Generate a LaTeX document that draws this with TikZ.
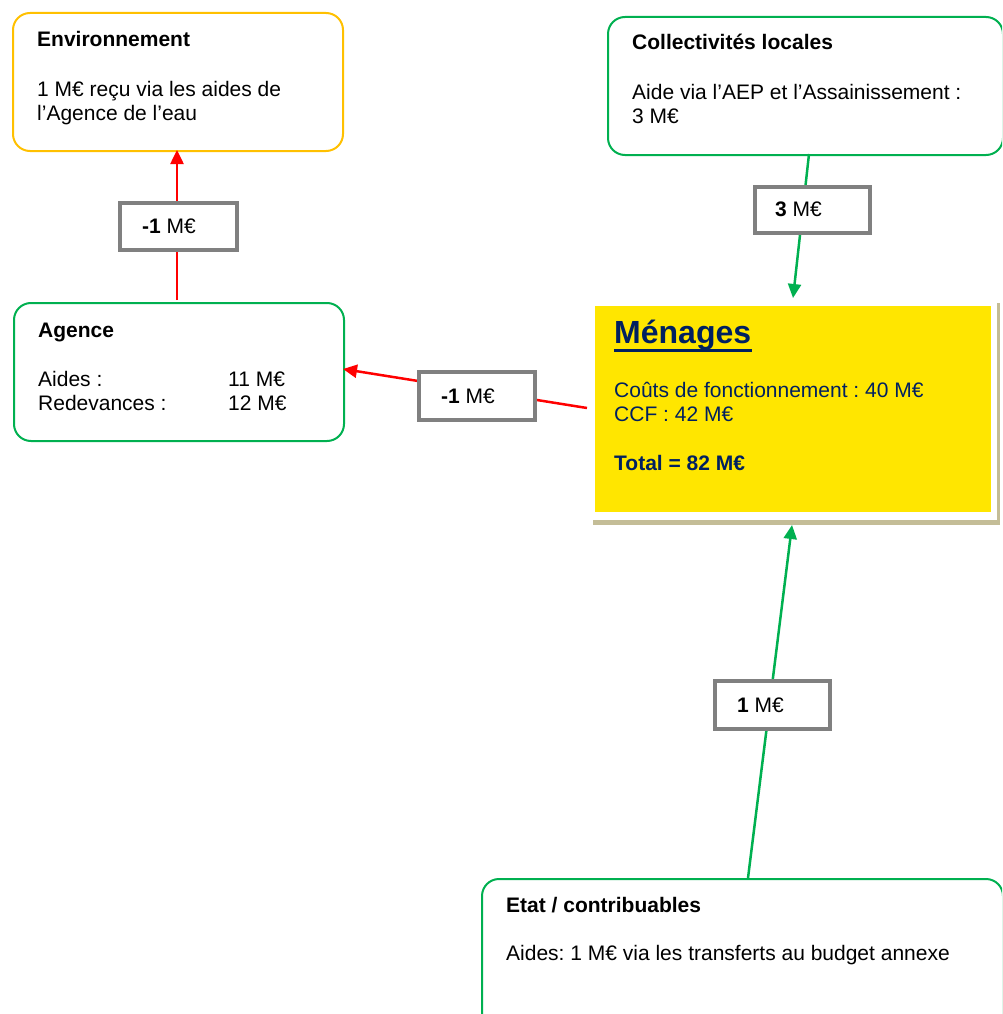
\documentclass[tikz,border=0pt]{standalone}
\usepackage{fontspec}
\setmainfont{Liberation Sans}
\usetikzlibrary{arrows.meta,calc}
\definecolor{cgreen}{RGB}{0,176,80}
\definecolor{corange}{RGB}{255,192,0}
\definecolor{cred}{RGB}{255,0,0}
\definecolor{cgray}{RGB}{128,128,128}
\definecolor{cyellow}{RGB}{255,230,0}
\definecolor{ctan}{RGB}{196,189,151}
\definecolor{cnavy}{RGB}{0,32,96}
\frenchspacing
\begin{document}
\begin{tikzpicture}[x=1pt,y=-1pt,
  font=\fontsize{21}{24}\selectfont,
  box/.style={draw, line width=2pt, rounded corners=17pt, anchor=north west, inner sep=0pt, fill=white},
  txt/.style={anchor=base west, inner sep=0pt},
  lbl/.style={draw=cgray, line width=4pt, fill=white, anchor=north west, inner sep=0pt},
  flow/.style={line width=2.5pt, -{Triangle[length=14pt,width=13pt]}}
]
\useasboundingbox (0,0) rectangle (1002,1014);
\clip (0,0) rectangle (1002,1014);

% boxes
\node[box, draw=cgreen, minimum width=395pt, minimum height=138pt] (coll) at (607,16) {};
\node[box, draw=corange, minimum width=330pt, minimum height=138pt] (env) at (12,12) {};
\node[box, draw=cgreen, minimum width=330pt, minimum height=138pt] (agence) at (13,302) {};
\node[box, draw=cgreen, minimum width=521pt, minimum height=160pt] (etat) at (481,878) {};

% Menages frame with shadow
\node[fill=ctan, anchor=north west, inner sep=0pt, minimum width=407pt, minimum height=222pt] (mshadow) at (593,303) {};
\node[fill=white, anchor=north west, inner sep=0pt, minimum width=407pt, minimum height=220pt] (menages) at (590,300) {};
\node[fill=cyellow, anchor=north west, inner sep=0pt, minimum width=396pt, minimum height=206pt] (myellow) at (595,306) {};

% texts
\node[txt] (envT) at (37,47) {\bfseries Environnement};
\node[txt] (envL1) at (37,97) {1 M€ reçu via les aides de};
\node[txt] (envL2) at (37,121) {l’Agence de l’eau};

\node[txt] (collT) at (632,50) {\bfseries Collectivités locales};
\node[txt] (collL1) at (632,100) {Aide via l’AEP et l’Assainissement :};
\node[txt] (collL2) at (632,124) {3 M€};

\node[txt] (agT) at (38,337) {\bfseries Agence};
\node[txt] (agL1) at (38,386) {Aides :};
\node[txt] (agL2) at (38,410) {Redevances :};
\node[txt] (agV1) at (228,386) {11 M€};
\node[txt] (agV2) at (228,410) {12 M€};

\node[txt, text=cnavy, font=\fontsize{32}{36}\selectfont\bfseries] (menT) at (614,343) {Ménages};
\draw[cnavy, line width=3pt] (menT.base west) ++(0,7) -- ++(137.5,0);
\node[txt, text=cnavy] (menL1) at (614,397) {Coûts de fonctionnement : 40 M€};
\node[txt, text=cnavy] (menL2) at (614,421) {CCF : 42 M€};
\node[txt, text=cnavy] (menL3) at (614,470) {\bfseries Total = 82 M€};

\node[txt] (etatT) at (506,912) {\bfseries Etat / contribuables};
\node[txt] (etatL1) at (506,960) {Aides: 1 M€ via les transferts au budget annexe};

% connector end points
\coordinate (a1s) at (177,300);
\coordinate (a1e) at (177,150);
\coordinate (a2s) at (587,408);
\coordinate (a2e) at (343,369);
\coordinate (a3s) at (809,154);
\coordinate (a3e) at (793,298);
\coordinate (a4s) at (748,878);
\coordinate (a4e) at (792,525);

\draw[flow, cred] (a1s) -- (a1e);
\draw[flow, cred] (a2s) -- (a2e);
\draw[flow, cgreen] (a3s) -- (a3e);
\draw[flow, cgreen] (a4s) -- (a4e);

% labels
\node[lbl, minimum width=117pt, minimum height=47pt] (l1) at (118,201) {};
\node[txt] (l1t) at (142,233) {\bfseries -1\mdseries{} M€};
\node[lbl, minimum width=116pt, minimum height=48pt] (l2) at (417,370) {};
\node[txt] (l2t) at (441,403) {\bfseries -1\mdseries{} M€};
\node[lbl, minimum width=115pt, minimum height=46pt] (l3) at (753,185) {};
\node[txt] (l3t) at (775,216) {\bfseries 3\mdseries{} M€};
\node[lbl, minimum width=115pt, minimum height=48pt] (l4) at (713,679) {};
\node[txt] (l4t) at (737,712) {\bfseries 1\mdseries{} M€};
\end{tikzpicture}
\end{document}
